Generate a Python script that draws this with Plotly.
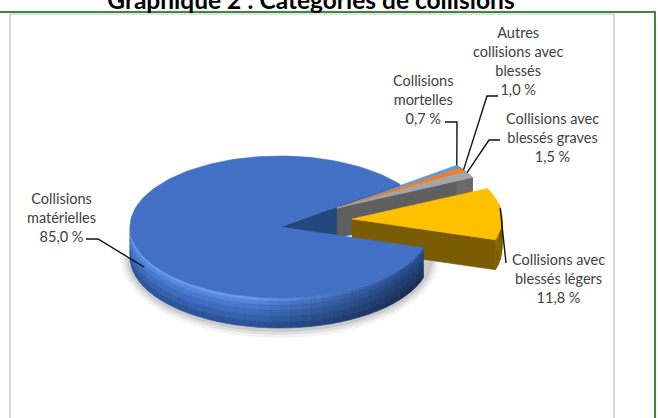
import math
import plotly.graph_objects as go

# ---- data ----
categories = ["Collisions matérielles", "Collisions avec blessés légers",
              "Collisions avec blessés graves", "Autres collisions avec blessés",
              "Collisions mortelles"]
values = [85.0, 11.8, 1.5, 1.0, 0.7]
wrapped = ["Collisions<br>matérielles", "Collisions avec<br>blessés légers",
           "Collisions avec<br>blessés graves", "Autres<br>collisions avec<br>blessés",
           "Collisions<br>mortelles"]
colors = ["#4270C4", "#FFC000", "#A5A5A5", "#ED7D31", "#5B9BD5"]

# ---- pie geometry (pixel space of the page) ----
W, H = 658, 418
A, B, DEPTH = 150, 71, 30
START = 37.0
centers = [(280, 227), (352, 219), (337, 208), (337, 208), (337, 208)]
label_pos = [(61, 217), (558, 278), (552, 137), (518, 61), (423, 99)]

spans = []
t = START
for v in values:
    spans.append((t, t + v * 3.6))
    t += v * 3.6


def rim(i, deg, dy=0):
    cx, cy = centers[i]
    r = math.radians(deg)
    return cx + A * math.cos(r), cy - B * math.sin(r) + dy


def arc(i, a0, a1, dy=0, step=2.0):
    n = max(2, int(abs(a1 - a0) / step) + 1)
    return [rim(i, a0 + (a1 - a0) * k / (n - 1), dy) for k in range(n)]


fig = go.Figure()


def poly(pts, color, line=0.6):
    xs = [p[0] for p in pts] + [pts[0][0]]
    ys = [p[1] for p in pts] + [pts[0][1]]
    fig.add_trace(go.Scatter(x=xs, y=ys, mode="lines", fill="toself", fillcolor=color,
                             line=dict(color=color, width=line), hoverinfo="skip",
                             showlegend=False))


def mix(c1, c2, f):
    a = [int(c1[i:i + 2], 16) for i in (1, 3, 5)]
    b = [int(c2[i:i + 2], 16) for i in (1, 3, 5)]
    return "#%02x%02x%02x" % tuple(round(x + (y - x) * f) for x, y in zip(a, b))


def top(i, color):
    cx, cy = centers[i]
    poly([(cx, cy)] + arc(i, *spans[i]), color)


def side_wall(i, deg, color):
    cx, cy = centers[i]
    e = rim(i, deg)
    poly([(cx, cy), e, (e[0], e[1] + DEPTH), (cx, cy + DEPTH)], color)


BANDS = [(0, 3), (3, 7), (7, 12), (12, 18), (18, 24), (24, DEPTH)]


def rim_wall(i, a0, a1, shade, step=4.0):
    n = max(1, int(abs(a1 - a0) / step))
    for k in range(n):
        p0 = a0 + (a1 - a0) * k / n
        p1 = a0 + (a1 - a0) * (k + 1) / n
        for b, (d0, d1) in enumerate(BANDS):
            poly(arc(i, p0, p1, d0) + arc(i, p1, p0, d1), shade((p0 + p1) / 2, b / (len(BANDS) - 1)))


def blue_shade(deg, depth):
    x = math.cos(math.radians(deg))
    f = min(1, max(0, (x + 0.2) / 1.0))           # dark to the right
    upper = mix("#4f82da", "#264a85", f)
    lower = mix("#2b549e", "#182f58", f)
    # bright line just under the top face, fading into the darker foot
    if depth < 0.25:
        return mix(mix("#6a9aee", "#2f5597", f), upper, depth / 0.25)
    return mix(upper, lower, (depth - 0.25) / 0.75)


def gold_shade(deg, depth):
    f = max(0, min(1, (deg - 342) / 30.0))
    base = mix("#6f5303", "#7f6000", 1 - abs(f - 0.3))
    return mix(mix("#a87f08", base, 0.4), base, min(1, depth * 2))


# soft shadow beneath the pie
for grow, alpha in ((9, .05), (6, .07), (3, .09)):
    cx, cy = centers[0]
    pts = [(cx + (A + grow) * math.cos(math.radians(d)),
            cy + DEPTH + 1 - (B + grow) * math.sin(math.radians(d))) for d in range(180, 361, 4)]
    poly(pts, f"rgba(0,0,0,{alpha})", line=0)

# back wall of the notch in the main slice
side_wall(0, spans[0][0], "#24477f")

# thin slices: walls, then tops
side_wall(2, spans[2][0], "#5f5f5f")
rim_wall(2, spans[2][0], spans[4][1], lambda d, b: "#6a6a6a", step=8.0)
for i in (4, 3, 2):
    top(i, colors[i])

# light-injury slice
rim_wall(1, spans[1][0], min(spans[1][1], 372), gold_shade)
side_wall(1, spans[1][0], "#7a5c04")
top(1, colors[1])

# main slice
rim_wall(0, 180, spans[0][1], blue_shade)
top(0, colors[0])

# leader lines: from the rim of each slice to the label
leaders = [
    (rim(0, 205, 10), [(98, 239), (86, 239)]),
    (rim(1, 9, 0), [(506, 263)]),
    (rim(2, spans[2][1] - 1), [(489, 140), (500, 140)]),
    (rim(3, spans[3][1] - 2), [(487, 96), (498, 96)]),
    (rim(4, spans[4][1]), [(457, 122), (445, 122)]),
]
for start, rest in leaders:
    pts = [start] + rest
    fig.add_trace(go.Scatter(x=[p[0] for p in pts], y=[p[1] for p in pts], mode="lines",
                             line=dict(color="#111111", width=1.4), hoverinfo="skip",
                             showlegend=False))

for name, v, pos in zip(wrapped, values, label_pos):
    fig.add_annotation(x=pos[0], y=pos[1], xref="x", yref="y", showarrow=False, align="center",
                       text=f"{name}<br>{v:.1f} %".replace(".", ","),
                       font=dict(family="Lato", size=14.5, color="#404040"))

fig.update_layout(
    width=W, height=H, margin=dict(l=0, r=0, t=0, b=0, autoexpand=False),
    autosize=False, paper_bgcolor="white", plot_bgcolor="white", showlegend=False,
    title=dict(text="<b>Graphique 2 : Catégories de collisions</b>", x=311 / W, xanchor="center",
               y=1.0, yanchor="middle", font=dict(family="Lato", size=24.5, color="#000000")),
    xaxis=dict(range=[0, W], visible=False, fixedrange=True),
    yaxis=dict(range=[H, 0], visible=False, fixedrange=True),
    shapes=[
        dict(type="line", x0=10, x1=10, y0=14, y1=H, line=dict(color="#d9d9d9", width=2), layer="below"),
        dict(type="line", x0=614, x1=614, y0=14, y1=H, line=dict(color="#d9d9d9", width=2), layer="below"),
        dict(type="line", x0=10, x1=614, y0=14, y1=14, line=dict(color="#d9d9d9", width=1.5), layer="below"),
        dict(type="line", x0=0, x1=656, y0=12, y1=12, line=dict(color="#3a8a3f", width=2), layer="below"),
        dict(type="line", x0=655, x1=655, y0=12, y1=H, line=dict(color="#3a8a3f", width=2), layer="below"),
    ],
)
fig.write_html("out.html", config={"displayModeBar": False},
               post_script="document.body.style.margin='0';document.body.style.overflow='hidden';")
